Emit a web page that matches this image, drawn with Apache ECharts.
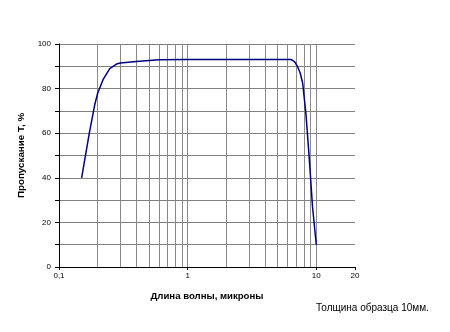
<!DOCTYPE html>
<html><head><meta charset="utf-8">
<script src="https://cdn.jsdelivr.net/npm/echarts@6/dist/echarts.min.js"></script>
<style>html,body{margin:0;padding:0;background:#fff}#c{width:450px;height:332px}</style>
</head><body><div id="c"></div>
<script>
const wavelength = [0.15, 0.172, 0.19, 0.2, 0.22, 0.248, 0.28, 0.3, 0.4, 0.6, 1, 2, 4, 6.4, 6.8, 7.16, 7.5, 7.84, 8.3, 8.8, 9.35, 10];
const transmission = [40, 60, 73, 78, 84, 89, 91, 91.5, 92.1, 92.9, 93, 93, 93, 93, 92, 89.8, 87, 82.4, 69, 49.5, 27, 10];
const xLabelValues = [0.1, 1, 10, 20];
const xGridValues = [0.2, 0.3, 0.4, 0.5, 0.6, 0.7, 0.8, 0.9, 1, 2, 3, 4, 5, 6, 7, 8, 9, 10];
const xTitle = 'Длина волны, микроны';
const yTitle = 'Пропускание Т, %';
const note = 'Толщина образца 10мм.';

const chart = echarts.init(document.getElementById('c'), null, {renderer: 'canvas'});
const font = 'Liberation Sans, Arial, sans-serif';
chart.setOption({
  animation: false,
  backgroundColor: '#fff',
  title: {
    text: note, left: 311, top: 298,
    textStyle: {fontFamily: font, fontSize: 10, fontWeight: 'normal', color: '#000'}
  },
  grid: {left: 59, right: 95, top: 44, bottom: 65, containLabel: false},
  xAxis: {
    type: 'log', logBase: 10, min: 0.1, max: 20,
    name: xTitle, nameLocation: 'middle', nameGap: 24,
    nameTextStyle: {fontFamily: font, fontSize: 9.6, fontWeight: 'bold', color: '#000'},
    axisLine: {show: true, lineStyle: {color: '#000', width: 1}},
    axisTick: {show: true, length: 3, customValues: xLabelValues, lineStyle: {color: '#000'}},
    axisLabel: {customValues: xLabelValues, fontFamily: font, fontSize: 8, color: '#000', margin: 5,
      formatter: v => String(v).replace('.', ',')},
    splitLine: {show: false}
  },
  yAxis: {
    type: 'value', min: 0, max: 100, interval: 10,
    name: yTitle, nameLocation: 'middle', nameGap: 21,
    nameTextStyle: {fontFamily: font, fontSize: 9.8, fontWeight: 'bold', color: '#000'},
    axisLine: {show: true, lineStyle: {color: '#000', width: 1}},
    axisTick: {show: true, length: 4, lineStyle: {color: '#000'}},
    axisLabel: {fontFamily: font, fontSize: 8, color: '#000', margin: 8,
      formatter: v => (v % 20 === 0 ? String(v) : '')},
    splitLine: {show: true, lineStyle: {color: '#808080', width: 1}}
  },
  series: [{
    type: 'line',
    data: wavelength.map((x, i) => [x, transmission[i]]),
    symbol: 'none',
    lineStyle: {color: '#000080', width: 1.5},
    z: 5,
    markLine: {
      silent: true, symbol: 'none', animation: false,
      label: {show: false},
      lineStyle: {color: '#8a8a8a', width: 1, type: 'solid'},
      data: xGridValues.map(v => ({xAxis: v}))
    }
  }]
});
</script></body></html>
